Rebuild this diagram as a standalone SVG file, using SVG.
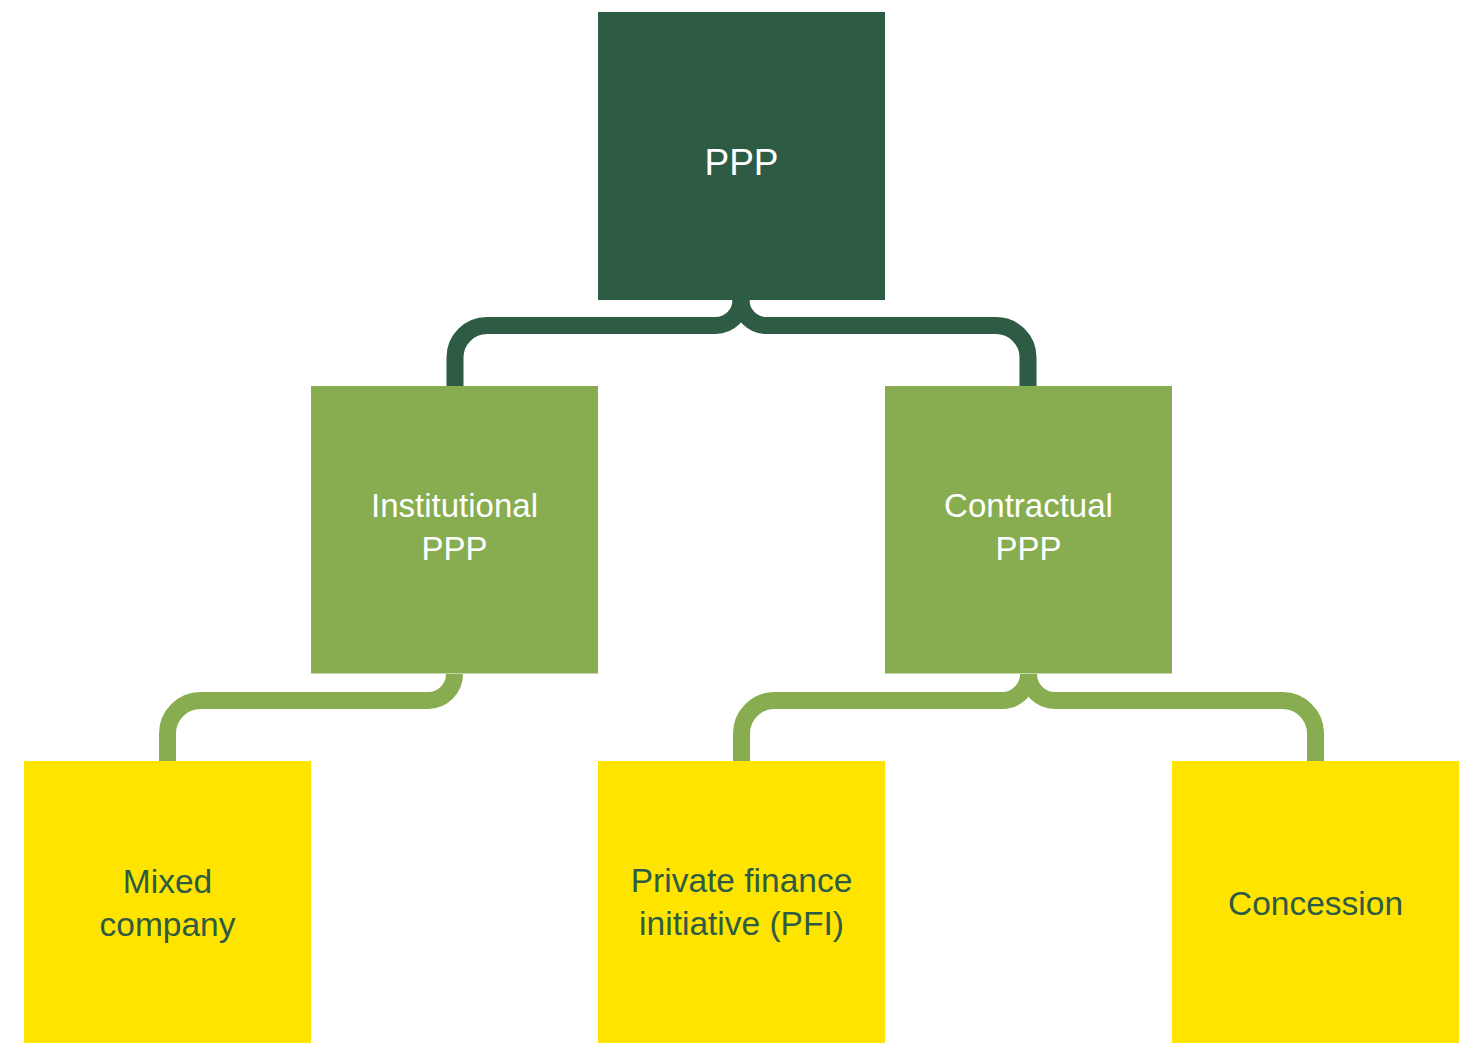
<svg xmlns="http://www.w3.org/2000/svg" width="1465" height="1043" viewBox="0 0 1465 1043">
  <style>
    text { font-family: "Liberation Sans", Arial, sans-serif; text-anchor: middle; }
    .root rect { fill: #2E5B44; }
    .mid rect { fill: #88AD50; }
    .leaf rect { fill: #FFE400; }
    .root text { fill: #FFFFFF; font-size: 37px; }
    .mid text { fill: #FFFFFF; font-size: 33px; }
    .leaf text { fill: #2E5B44; font-size: 33.5px; }
    .link { fill: none; stroke-width: 17; stroke-linecap: butt; stroke-linejoin: round; }
    .link-dark { stroke: #2E5B44; }
    .link-light { stroke: #88AD50; }
  </style>

  <rect x="0" y="0" width="1465" height="1043" fill="#FFFFFF"/>

  <!-- connectors -->
  <g id="connectors">
    <path class="link link-dark" d="M 741 300 A 25.5 25.5 0 0 1 715.5 325.5 H 487 A 32 32 0 0 0 455 357.5 V 386"/>
    <path class="link link-dark" d="M 741 300 A 25.5 25.5 0 0 0 766.5 325.5 H 996 A 32 32 0 0 1 1028 357.5 V 386"/>
    <path class="link link-light" d="M 454.5 674 A 26.5 26.5 0 0 1 428 700.5 H 200.5 A 33 33 0 0 0 167.5 733.5 V 761"/>
    <path class="link link-light" d="M 1028.5 674 A 26.5 26.5 0 0 1 1002 700.5 H 774.5 A 33 33 0 0 0 741.5 733.5 V 761"/>
    <path class="link link-light" d="M 1028.5 674 A 26.5 26.5 0 0 0 1055 700.5 H 1282.5 A 33 33 0 0 1 1315.5 733.5 V 761"/>
  </g>

  <!-- top level -->
  <g id="node-ppp" class="root">
    <rect x="598" y="12" width="287" height="288"/>
    <text x="741.5" y="175">PPP</text>
  </g>

  <!-- second level -->
  <g id="node-institutional" class="mid">
    <rect x="311" y="386" width="287" height="287.5"/>
    <text x="454.5" y="517">Institutional</text>
    <text x="454.5" y="560">PPP</text>
  </g>
  <g id="node-contractual" class="mid">
    <rect x="885" y="386" width="287" height="287.5"/>
    <text x="1028.5" y="517">Contractual</text>
    <text x="1028.5" y="560">PPP</text>
  </g>

  <!-- third level -->
  <g id="node-mixed" class="leaf">
    <rect x="24" y="761" width="287" height="282"/>
    <text x="167.5" y="893">Mixed</text>
    <text x="167.5" y="936">company</text>
  </g>
  <g id="node-pfi" class="leaf">
    <rect x="598" y="761" width="287" height="282"/>
    <text x="741.5" y="892">Private finance</text>
    <text x="741.5" y="935">initiative (PFI)</text>
  </g>
  <g id="node-concession" class="leaf">
    <rect x="1172" y="761" width="287" height="282"/>
    <text x="1315.5" y="915">Concession</text>
  </g>
</svg>
